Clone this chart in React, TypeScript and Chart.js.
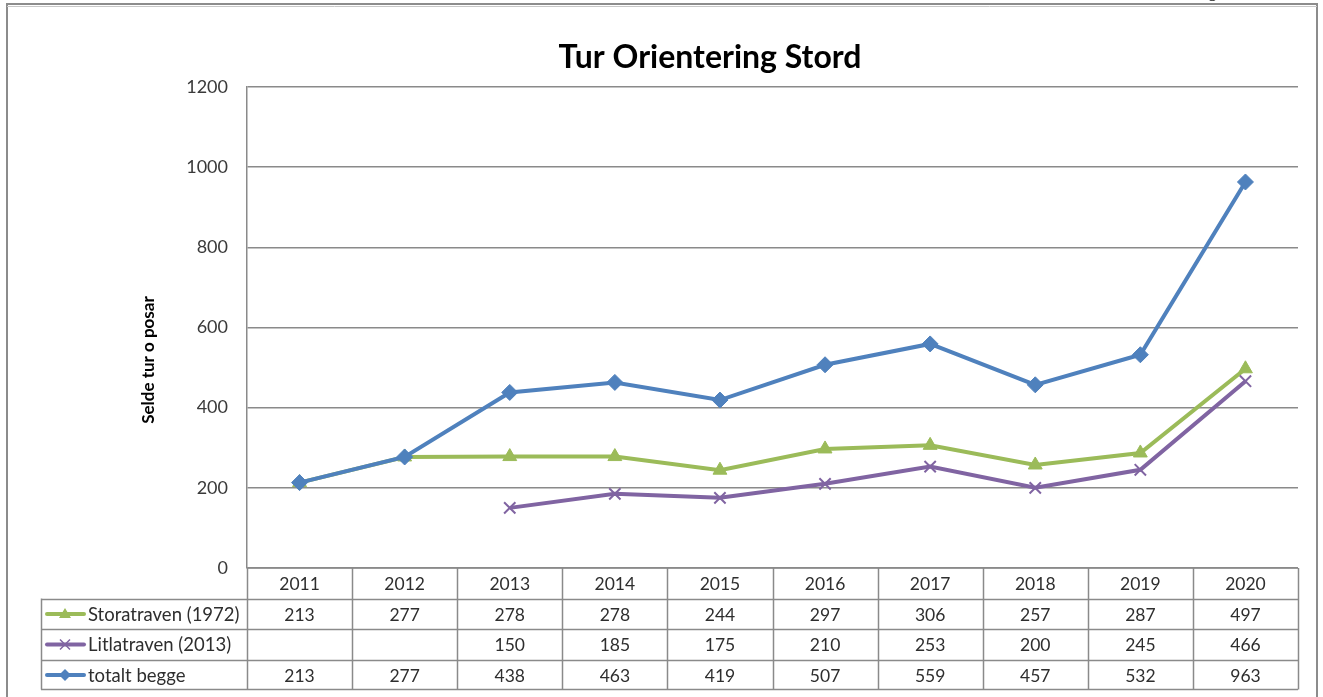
import React, { useEffect, useRef } from "react";
import { Chart, registerables } from "chart.js";

Chart.register(...registerables);

const years = ["2011", "2012", "2013", "2014", "2015", "2016", "2017", "2018", "2019", "2020"];
const storatraven = [213, 277, 278, 278, 244, 297, 306, 257, 287, 497];
const litlatraven = [null, null, 150, 185, 175, 210, 253, 200, 245, 466];
const totaltBegge = [213, 277, 438, 463, 419, 507, 559, 457, 532, 963];
const yTicks = [0, 200, 400, 600, 800, 1000, 1200];

const seriesNames = ["Storatraven (1972)", "Litlatraven (2013)", "totalt begge"];
const seriesColors = ["#9BBB59", "#8064A2", "#4F81BD"];
const seriesMarkers = ["triangle", "crossRot", "rectRot"];
const seriesData = [storatraven, litlatraven, totaltBegge];

const titleText = "Tur Orientering Stord";
const yTitleText = "Selde tur o posar";

const FONT = "Lato, 'Open Sans', sans-serif";
const GRID = "#8a8a8a";
const TEXT = "#2e2e2e";

const decorPlugin = {
  id: "excelDecor",
  beforeDraw(chart: any) {
    const ctx = chart.ctx;
    ctx.save();
    ctx.fillStyle = "#ffffff";
    ctx.fillRect(0, 0, chart.width, chart.height);
    ctx.restore();
  },
  afterDraw(chart: any) {
    const ctx = chart.ctx;
    const area = chart.chartArea;
    const xs = chart.scales.x;
    const n = years.length;
    const colW = (area.right - area.left) / n;
    const rowH = 30.6;
    const top = area.bottom;
    const bottom = top + rowH * 4 - 1;
    const legendLeft = 41;

    ctx.save();
    // outer frame
    ctx.strokeStyle = "#8c8c8c";
    ctx.lineWidth = 2;
    ctx.strokeRect(7, 4, 1310, 700);
    ctx.strokeStyle = "#c8c8c8";
    ctx.lineWidth = 1;
    ctx.beginPath();
    ctx.moveTo(7, 6.5);
    ctx.lineTo(1317, 6.5);
    ctx.stroke();

    // cut-off glyph from the page above
    ctx.fillStyle = "#222";
    ctx.font = "16px 'DejaVu Serif', serif";
    ctx.textAlign = "left";
    ctx.textBaseline = "alphabetic";
    ctx.fillText("g", 1208, -3);

    // title
    ctx.fillStyle = "#000";
    ctx.font = `bold 32px ${FONT}`;
    ctx.textAlign = "center";
    ctx.textBaseline = "middle";
    ctx.fillText(titleText, 710, 58);

    // y axis title
    ctx.save();
    ctx.translate(149, 360);
    ctx.rotate(-Math.PI / 2);
    ctx.font = `bold 17px ${FONT}`;
    ctx.fillStyle = "#000";
    ctx.fillText(yTitleText, 0, 0);
    ctx.restore();

    // table grid
    ctx.strokeStyle = GRID;
    ctx.lineWidth = 1.5;
    ctx.beginPath();
    for (let i = 0; i <= n; i++) {
      const x = Math.round(area.left + i * colW) + 0.5;
      ctx.moveTo(x, top);
      ctx.lineTo(x, bottom);
    }
    ctx.moveTo(area.left, top);
    ctx.lineTo(area.right, top);
    for (let r = 1; r <= 4; r++) {
      const y = Math.round(r === 4 ? bottom : top + r * rowH) + 0.5;
      ctx.moveTo(legendLeft, y);
      ctx.lineTo(area.right, y);
    }
    ctx.moveTo(legendLeft + 0.5, top + rowH);
    ctx.lineTo(legendLeft + 0.5, bottom);
    ctx.stroke();

    // header years
    ctx.font = `17.5px ${FONT}`;
    ctx.fillStyle = TEXT;
    ctx.textAlign = "center";
    ctx.textBaseline = "middle";
    years.forEach((yr, i) => {
      const cx = xs.getPixelForValue(i);
      ctx.fillText(yr, cx, top + rowH / 2 + 1);
    });

    // rows
    seriesData.forEach((data, r) => {
      const cy = top + rowH * (r + 1) + rowH / 2 + 1;
      ctx.font = `17.5px ${FONT}`;
      data.forEach((v, i) => {
        if (v === null) return;
        ctx.fillStyle = TEXT;
        ctx.textAlign = "center";
        ctx.fillText(String(v), xs.getPixelForValue(i), cy);
      });
      // legend key
      const color = seriesColors[r];
      ctx.strokeStyle = color;
      ctx.lineWidth = 4;
      ctx.lineCap = "round";
      ctx.beginPath();
      ctx.moveTo(47, cy - 1);
      ctx.lineTo(84, cy - 1);
      ctx.stroke();
      ctx.lineCap = "butt";
      drawMarker(ctx, seriesMarkers[r], 65, cy - 1, color);
      ctx.fillStyle = TEXT;
      ctx.textAlign = "left";
      ctx.font = `18.5px ${FONT}`;
      ctx.fillText(seriesNames[r], 88, cy);
    });
    ctx.restore();
  },
};

function drawMarker(ctx: CanvasRenderingContext2D, kind: string, x: number, y: number, color: string) {
  ctx.save();
  ctx.fillStyle = color;
  ctx.strokeStyle = color;
  if (kind === "triangle") {
    ctx.beginPath();
    ctx.moveTo(x, y - 6);
    ctx.lineTo(x + 6, y + 4);
    ctx.lineTo(x - 6, y + 4);
    ctx.closePath();
    ctx.fill();
  } else if (kind === "crossRot") {
    ctx.lineWidth = 1.5;
    ctx.beginPath();
    ctx.moveTo(x - 5, y - 5);
    ctx.lineTo(x + 5, y + 5);
    ctx.moveTo(x + 5, y - 5);
    ctx.lineTo(x - 5, y + 5);
    ctx.stroke();
  } else {
    ctx.beginPath();
    ctx.moveTo(x, y - 6);
    ctx.lineTo(x + 6, y);
    ctx.lineTo(x, y + 6);
    ctx.lineTo(x - 6, y);
    ctx.closePath();
    ctx.fill();
  }
  ctx.restore();
}

export default function App() {
  const ref = useRef<HTMLCanvasElement | null>(null);

  useEffect(() => {
    if (!ref.current) return;
    const chart = new Chart(ref.current, {
      type: "line",
      data: {
        labels: years,
        datasets: seriesData.map((d, i) => ({
          label: seriesNames[i],
          data: d as (number | null)[],
          borderColor: seriesColors[i],
          backgroundColor: seriesColors[i],
          borderWidth: 4,
          pointStyle: seriesMarkers[i] as any,
          pointRadius: 8,
          pointBorderWidth: i === 1 ? 2 : 1,
          pointBackgroundColor: seriesColors[i],
          pointBorderColor: seriesColors[i],
          tension: 0,
          spanGaps: false,
          order: 2 - i,
        })),
      },
      options: {
        responsive: false,
        animation: false,
        devicePixelRatio: 1,
        layout: { padding: { left: 0, right: 25, top: 87, bottom: 129 } },
        plugins: {
          legend: { display: false },
          title: { display: false },
          tooltip: { enabled: false },
        },
        scales: {
          x: {
            type: "category",
            offset: true,
            display: false,
          },
          y: {
            min: 0,
            max: 1200,
            afterBuildTicks: (s: any) => {
              s.ticks = yTicks.map((v) => ({ value: v }));
            },
            afterFit: (s: any) => {
              s.width = 247;
            },
            grid: { color: GRID, lineWidth: 1.5, drawTicks: false },
            border: { display: true, color: GRID, width: 1.5 },
            ticks: {
              padding: 19,
              color: "#3a3a3a",
              font: { family: FONT, size: 18 },
              callback: (v: any) => String(v),
            },
          },
        },
      },
      plugins: [decorPlugin],
    });
    return () => chart.destroy();
  }, []);

  return (
    <div style={{ position: "absolute", left: 0, top: 0, width: 1323, height: 697 }}>
      <canvas ref={ref} width={1323} height={697} style={{ display: "block" }} />
    </div>
  );
}
